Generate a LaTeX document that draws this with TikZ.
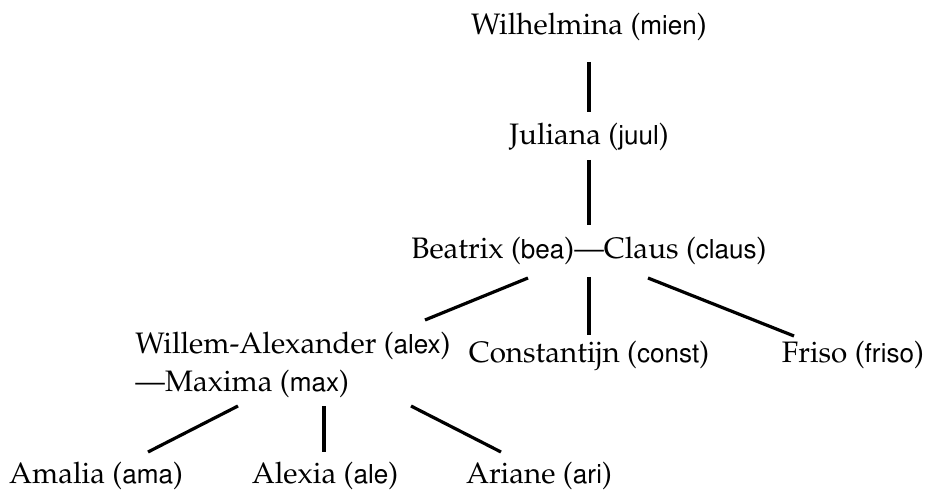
\documentclass[tikz,border=0pt]{standalone}
\usepackage[T1]{fontenc}
\usepackage{mathpazo}
\usepackage[scaled=0.88]{helvet}
\usetikzlibrary{calc}
\newcommand{\nick}[1]{{\sffamily #1}}
\tikzset{
  person/.style={inner sep=0pt, anchor=base, font=\fontsize{14.8}{19.5}\selectfont},
  link/.style={line width=1.6pt}
}
\begin{document}
\begin{tikzpicture}[x=0.5pt,y=-0.5pt]
\useasboundingbox (0,0) rectangle (928,492);
\node[person] (w) at (589,35) {Wilhelmina (\nick{mien})};
\node[person] (j) at (589,145) {Juliana (\nick{juul})};
\node[person] (b) at (589,259) {Beatrix (\nick{bea})---Claus (\nick{claus})};
\node[person, anchor=base west] (wa) at (135,353) {\begin{tabular}[t]{@{}l@{}}Willem-Alexander (\nick{alex})\\[0pt]---Maxima (\nick{max})\end{tabular}};
\node[person] (c) at (589,363) {Constantijn (\nick{const})};
\node[person] (f) at (853,363) {Friso (\nick{friso})};
\node[person] (am) at (96,483) {Amalia (\nick{ama})};
\node[person] (al) at (325,483) {Alexia (\nick{ale})};
\node[person] (ar) at (539,483) {Ariane (\nick{ari})};
\draw[link] ($(w.base)+(0,27)$) -- ($(j.base)+(0,-33)$);
\draw[link] ($(j.base)+(0,15)$) -- ($(b.base)+(0,-34)$);
\draw[link] ($(b.base)+(-61,19)$) -- ($(wa.base west)+(290,-33)$);
\draw[link] ($(b.base)+(0,18)$) -- ($(b.base)+(0,76)$);
\draw[link] ($(b.base)+(59,19)$) -- ($(f.base)+(-59,-27)$);
\draw[link] ($(wa.base west)+(103,53)$) -- ($(am.base)+(52,-31)$);
\draw[link] ($(wa.base west)+(189,53)$) -- ($(al.base)+(-1,-31)$);
\draw[link] ($(wa.base west)+(276,53)$) -- ($(ar.base)+(-38,-31)$);
\end{tikzpicture}
\end{document}
